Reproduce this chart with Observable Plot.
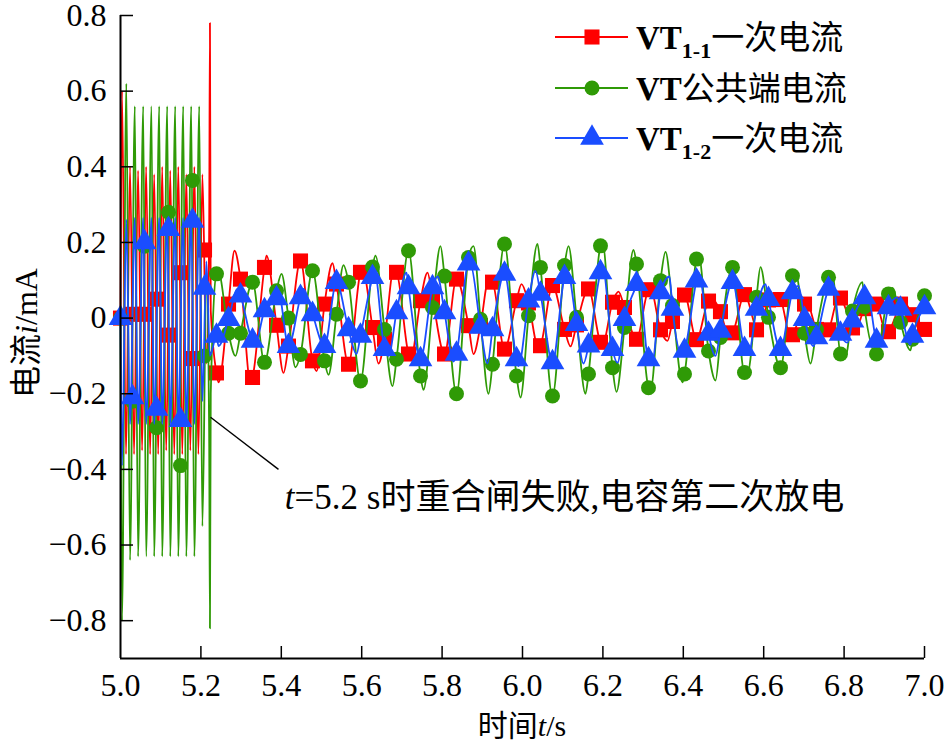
<!DOCTYPE html>
<html>
<head>
<meta charset="utf-8">
<script src="https://cdn.jsdelivr.net/npm/d3@7"></script>
<script src="https://cdn.jsdelivr.net/npm/@observablehq/plot@0.6"></script>
<style>
  body { margin: 0; background: #fff; }
  #chart { width: 947px; height: 746px; }
  #chart svg { overflow: visible; }
</style>
</head>
<body>
<div id="chart"></div>
<script>
// ---------- data ----------
const xTicks = [5.0, 5.2, 5.4, 5.6, 5.8, 6.0, 6.2, 6.4, 6.6, 6.8, 7.0];
const yTicks = [-0.8, -0.6, -0.4, -0.2, 0, 0.2, 0.4, 0.6, 0.8];
const seriesNames = ["VT1-1一次电流", "VT公共端电流", "VT1-2一次电流"];
const legendMain = ["VT", "VT", "VT"];
const legendSub = ["1-1", "", "1-2"];
const legendRest = ["一次电流", "公共端电流", "一次电流"];
const xTitle = ["时间", "t", "/s"];
const yTitle = ["电流", "i", "/mA"];
const annotText = ["t", "=5.2 s", "时重合闸失败", ",", "电容第二次放电"];
const annotLineT = [5.224, 5.393];
const annotLineV = [-0.262, -0.40];
const annotTextPos = [5.410, -0.505];

// marker sample times (s)
const markerT = [5.0000,5.0299,5.0597,5.0896,5.1194,5.1493,5.1791,5.2090,5.2388,5.2687,
  5.2985,5.3284,5.3582,5.3881,5.4179,5.4478,5.4776,5.5075,5.5373,5.5672,
  5.5970,5.6269,5.6567,5.6866,5.7164,5.7463,5.7761,5.8060,5.8358,5.8657,
  5.8955,5.9254,5.9552,5.9851,6.0149,6.0448,6.0746,6.1045,6.1343,6.1642,
  6.1940,6.2239,6.2537,6.2836,6.3134,6.3433,6.3731,6.4030,6.4328,6.4627,
  6.4925,6.5224,6.5522,6.5821,6.6119,6.6418,6.6716,6.7015,6.7313,6.7612,
  6.7910,6.8209,6.8507,6.8806,6.9104,6.9403,6.9701,7.0000];
const redM = [0,0.01,0.01,0.05,-0.045,0.12,-0.107,0.18,-0.145,0.037,
  0.103,-0.157,0.134,-0.019,-0.074,0.151,-0.113,0.037,0.09,-0.122,
  0.121,-0.025,-0.056,0.121,-0.095,0.046,0.053,-0.095,0.103,-0.02,
  -0.02,0.095,-0.082,0.046,0.04,-0.073,0.086,-0.03,-0.018,0.077,
  -0.064,0.042,0.028,-0.056,0.075,-0.031,-0.009,0.061,-0.057,0.045,
  0.017,-0.039,0.062,-0.031,0.048,0.049,-0.044,0.037,-0.03,-0.031,
  0.053,-0.026,0.025,0.037,-0.036,0.037,0.009,-0.03];
const greenM = [0,-0.22,0.19,-0.29,0.28,-0.39,0.364,-0.1,0.117,-0.04,
  -0.04,0.095,-0.117,0.072,0.0,-0.096,0.125,-0.113,0.01,0.095,
  -0.166,0.135,-0.03,-0.109,0.178,-0.153,0.028,0.111,-0.2,0.16,
  -0.003,-0.122,0.196,-0.153,0.006,0.134,-0.206,0.139,0.002,-0.148,
  0.191,-0.131,-0.025,0.143,-0.184,0.099,0.033,-0.148,0.156,-0.087,
  -0.051,0.134,-0.144,0.055,0.002,-0.131,0.112,-0.04,-0.03,0.108,
  -0.095,0.019,0.03,-0.095,0.064,-0.011,-0.056,0.059];
const blueM = [0,-0.21,0.2,-0.24,0.235,-0.27,0.257,0.08,-0.047,-0.003,
  0.059,-0.06,0.02,0.052,-0.074,0.055,0.01,-0.074,0.095,-0.03,
  -0.047,0.108,-0.082,0.015,0.081,-0.109,0.081,0.015,-0.095,0.144,
  -0.023,-0.03,0.117,-0.109,0.046,0.064,-0.117,0.108,-0.016,-0.073,
  0.121,-0.082,-0.003,0.09,-0.109,0.068,0.024,-0.087,0.099,-0.042,
  -0.034,0.095,-0.082,0.024,0.05,-0.082,0.068,-0.003,-0.051,0.077,
  -0.042,-0.007,0.055,-0.06,0.028,0.024,-0.047,0.028];

// turning points of each waveform (time, value)
const redExtT = [5.0,5.0037,5.0137,5.0237,5.0337,5.0437,5.0537,5.0637,5.0737,5.0837,5.0937,
  5.1037,5.1137,5.1237,5.1337,5.1437,5.1537,5.1637,5.1737,5.1837,5.1937,5.2037,5.2137,
  5.2205,5.2225,5.2245,
  5.2438,5.2836,5.3234,5.3632,5.4055,5.4478,5.4876,5.5274,5.5672,5.6020,5.6418,5.6791,
  5.7214,5.7637,5.8035,5.8383,5.8781,5.9154,5.9577,5.9975,6.0398,6.0771,6.1194,6.1617,
  6.1990,6.2388,6.2811,6.3184,6.3607,6.4005,6.4353,6.4726,6.5124,6.5547,6.5871,6.6219,
  6.6667,6.7065,6.7463,6.7861,6.8259,6.8657,6.9055,6.9453,6.9900];
const redExtV = [0,0.6,-0.36,0.4,-0.36,0.39,-0.35,0.4,-0.36,0.38,-0.36,
  0.4,-0.35,0.39,-0.36,0.4,-0.36,0.38,-0.35,0.4,-0.36,0.38,-0.12,
  0.22,0.78,0.02,
  -0.17,0.178,-0.17,0.165,-0.145,0.158,-0.14,0.145,-0.13,0.13,-0.12,0.125,
  -0.11,0.12,-0.1,0.11,-0.095,0.1,-0.085,0.09,-0.08,0.088,-0.075,0.085,
  -0.07,0.07,-0.065,0.078,-0.06,0.065,-0.062,0.05,-0.045,0.065,-0.04,0.06,
  -0.05,0.045,-0.04,0.055,-0.035,0.045,-0.04,0.045,-0.035];

const greenExtT = [5.0,5.0037,5.0145,5.0237,5.0356,5.0437,5.0565,5.0637,5.0771,5.0837,5.0963,
  5.1037,5.1162,5.1237,5.1361,5.1437,5.1560,5.1637,5.1759,5.1837,5.1958,5.2037,5.2137,
  5.2205,5.2225,5.2245,
  5.2438,5.2861,5.3259,5.3582,5.4005,5.4353,5.4801,5.5174,5.5547,5.5970,5.6343,5.6766,
  5.7164,5.7537,5.7960,5.8383,5.8781,5.9154,5.9577,5.9950,6.0373,6.0746,6.1144,6.1567,
  6.1990,6.2338,6.2761,6.3184,6.3557,6.3980,6.4378,6.4801,6.5224,6.5597,6.5920,6.6418,
  6.6791,6.7164,6.7711,6.8035,6.8458,6.8831,6.9204,6.9652];
const greenExtV = [0,-0.8,0.62,-0.64,0.56,-0.63,0.56,-0.63,0.56,-0.63,0.56,
  -0.63,0.56,-0.63,0.56,-0.63,0.56,-0.63,0.56,-0.63,0.56,-0.55,0.12,
  -0.3,-0.82,-0.2,
  0.12,-0.1,0.1,-0.12,0.117,-0.13,0.13,-0.15,0.14,-0.17,0.165,-0.18,
  0.18,-0.19,0.19,-0.21,0.19,-0.2,0.2,-0.21,0.196,-0.21,0.19,-0.2,
  0.2,-0.195,0.18,-0.19,0.175,-0.17,0.17,-0.165,0.14,-0.145,0.135,-0.14,
  0.12,-0.12,0.115,-0.1,0.095,-0.1,0.08,-0.085];

const blueExtT = [5.0,5.0037,5.0145,5.0237,5.0356,5.0437,5.0565,5.0637,5.0771,5.0837,5.0963,
  5.1037,5.1162,5.1237,5.1361,5.1437,5.1560,5.1637,5.1759,5.1837,5.1958,5.2037,5.2137,
  5.2225,
  5.2438,5.2910,5.3358,5.3930,5.4552,5.5050,5.5398,5.5871,5.6318,5.6667,5.7114,5.7488,
  5.7886,5.8284,5.8706,5.9129,5.9577,5.9900,6.0323,6.0771,6.1119,6.1517,6.1990,6.2363,
  6.2886,6.3234,6.3657,6.3980,6.4378,6.4801,6.5249,6.5622,6.6045,6.6418,6.6866,6.7239,
  6.7711,6.8085,6.8582,6.8905,6.9328,6.9652];
const blueExtV = [0,-0.39,0.26,-0.28,0.265,-0.28,0.265,-0.28,0.265,-0.28,0.265,
  -0.28,0.265,-0.28,0.265,-0.28,0.265,-0.28,0.265,-0.28,0.265,-0.22,0.15,
  -0.1,
  -0.074,0.077,-0.066,0.068,0.077,-0.083,0.11,-0.095,0.125,-0.1,0.12,-0.13,
  0.11,-0.115,0.143,-0.12,0.135,-0.127,0.125,-0.13,0.125,-0.12,0.138,-0.118,
  0.11,-0.11,0.11,-0.1,0.12,-0.1,0.11,-0.095,0.09,-0.09,0.085,-0.074,
  0.095,-0.065,0.064,-0.07,0.055,-0.07];

// ---------- styling ----------
const RED = "#ff0000", GREEN = "#2f9a06", BLUE = "#1a4dff";
const LAT = "Liberation Serif, Times New Roman, serif";
const CJKF = "Noto Sans CJK SC, sans-serif";
const MR = {square: 8.5, circle: 7.5, triangle: 8.8};

function markerRows(vals) {
  return markerT.map((t, i) => ({t, v: vals[i]}));
}
function lineRows(extT, extV, mVals) {
  const mk = markerRows(mVals).filter(d => d.t > 5.23);
  const ext = extT.map((t, i) => ({t, v: extV[i]}))
    .filter(p => p.t <= 5.23 || !mk.some(m => Math.abs(m.t - p.t) < 0.004));
  return ext.concat(mk).sort((a, b) => a.t - b.t);
}
const redLine = lineRows(redExtT, redExtV, redM);
const greenLine = lineRows(greenExtT, greenExtV, greenM);
const blueLine = lineRows(blueExtT, blueExtV, blueM);

const fmtY = d => d === 0 ? "0" : (d < 0 ? "\u2212" : "") + Math.abs(d).toFixed(1);

const plot = Plot.plot({
  width: 947,
  height: 746,
  marginLeft: 120,
  marginRight: 23,
  marginTop: 15,
  marginBottom: 88,
  x: {domain: [5, 7]},
  y: {domain: [-0.9, 0.8]},
  marks: [
    Plot.lineY(redLine, {x: "t", y: "v", stroke: RED, strokeWidth: 1.8, curve: "monotone-x"}),
    Plot.dot(markerRows(redM), {x: "t", y: "v", symbol: "square", r: MR.square, fill: RED, stroke: "none"}),
    Plot.lineY(greenLine, {x: "t", y: "v", stroke: GREEN, strokeWidth: 1.8, curve: "monotone-x"}),
    Plot.dot(markerRows(greenM), {x: "t", y: "v", symbol: "circle", r: MR.circle, fill: GREEN, stroke: "none"}),
    Plot.lineY(blueLine, {x: "t", y: "v", stroke: BLUE, strokeWidth: 1.8, curve: "monotone-x"}),
    Plot.dot(markerRows(blueM), {x: "t", y: "v", symbol: "triangle", r: MR.triangle, fill: BLUE, stroke: "none"}),
    Plot.link([0], {x1: () => annotLineT[0], y1: () => annotLineV[0], x2: () => annotLineT[1], y2: () => annotLineV[1], stroke: "#000", strokeWidth: 1.4}),
    Plot.ruleX([5], {stroke: "#000", strokeWidth: 2}),
    Plot.ruleY([-0.9], {stroke: "#000", strokeWidth: 2}),
    Plot.tickY(yTicks, {y: d => d, stroke: "#000", strokeWidth: 1.5, insetRight: 804 - 13}),
    Plot.tickX(xTicks.filter(d => d > 5), {x: d => d, stroke: "#000", strokeWidth: 1.5, insetTop: 643 - 12}),
    Plot.axisX({ticks: xTicks, tickSize: 0, tickPadding: 15, tickFormat: d => d.toFixed(1), label: null, fontSize: 32, fontFamily: LAT}),
    Plot.axisY({ticks: yTicks, tickSize: 0, tickPadding: 14, tickFormat: fmtY, label: null, fontSize: 32, fontFamily: LAT})
  ]
});

document.getElementById("chart").appendChild(plot);

// ---------- titles, annotation, legend ----------
const svg = d3.select(plot);
const sx = plot.scale("x"), sy = plot.scale("y");
function part(el, str, isCjk, extra) {
  const s = el.append("tspan").attr("font-family", isCjk ? CJKF : LAT).text(str);
  if (extra) extra(s);
  return s;
}

// x title
const xt = svg.append("text").attr("x", 522).attr("y", 736).attr("text-anchor", "middle")
  .attr("font-size", 30).attr("fill", "#000");
part(xt, xTitle[0], true);
part(xt, xTitle[1], false, s => s.attr("font-style", "italic"));
part(xt, xTitle[2], false);

// y title
const yt = svg.append("text").attr("transform", "translate(37,333) rotate(-90)").attr("text-anchor", "middle")
  .attr("font-size", 32).attr("fill", "#000");
part(yt, yTitle[0], true);
part(yt, yTitle[1], false, s => s.attr("font-style", "italic"));
part(yt, yTitle[2], false);

// annotation text
const at = svg.append("text").attr("x", sx.apply(annotTextPos[0])).attr("y", sy.apply(annotTextPos[1]))
  .attr("text-anchor", "start").attr("font-size", 35).attr("fill", "#000");
part(at, annotText[0], false, s => s.attr("font-style", "italic"));
part(at, annotText[1], false);
part(at, annotText[2], true);
part(at, annotText[3], false);
part(at, annotText[4], true);

// legend
const legendColors = [RED, GREEN, BLUE];
const legendSymbols = [d3.symbolSquare, d3.symbolCircle, d3.symbolTriangle];
const legendR = [MR.square, MR.circle, MR.triangle];
const legendY = [37, 88, 138];
const lg = svg.append("g");
legendColors.forEach((c, i) => {
  const y = legendY[i];
  lg.append("line").attr("x1", 555).attr("x2", 628).attr("y1", y).attr("y2", y)
    .attr("stroke", c).attr("stroke-width", 2);
  lg.append("path").attr("transform", `translate(592,${y})`)
    .attr("d", d3.symbol(legendSymbols[i], Math.PI * legendR[i] * legendR[i])())
    .attr("fill", c);
  const t = lg.append("text").attr("x", 636).attr("y", y + 12).attr("font-size", 33)
    .attr("text-anchor", "start").attr("fill", "#000");
  part(t, legendMain[i], false, s => s.attr("font-weight", "bold"));
  if (legendSub[i]) {
    part(t, legendSub[i], false, s => s.attr("font-weight", "bold").attr("font-size", 22).attr("dy", 9));
    part(t, legendRest[i], true, s => s.attr("dy", -9));
  } else {
    part(t, legendRest[i], true);
  }
});
</script>
</body>
</html>
